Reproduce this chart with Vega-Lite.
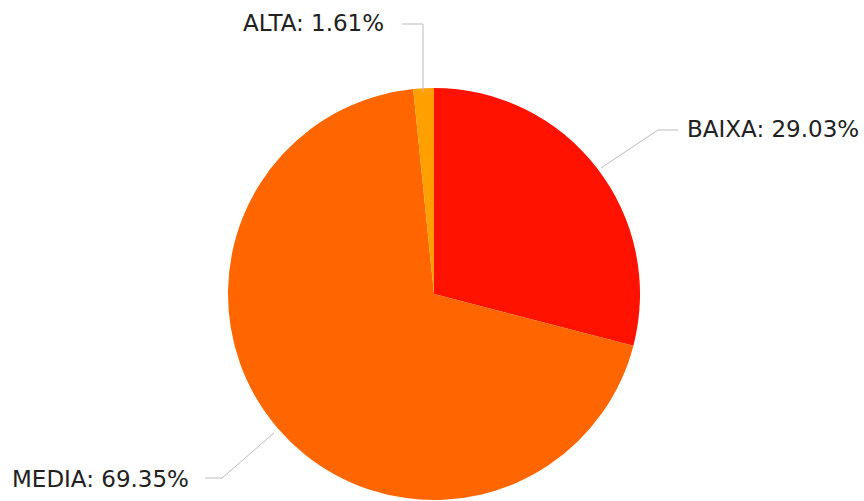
{
  "$schema": "https://vega.github.io/schema/vega-lite/v6.json",
  "autosize": {"type": "fit", "contains": "padding"},
  "width": 864,
  "height": 501,
  "padding": 0,
  "background": "white",
  "config": {"view": {"stroke": null}},
  "datasets": {
    "pie": [
      {"category": "BAIXA", "value": 29.03, "ord": 1},
      {"category": "MEDIA", "value": 69.35, "ord": 2},
      {"category": "ALTA", "value": 1.61, "ord": 3}
    ],
    "leaders": [
      {"category": "ALTA", "px": -11, "py": 202, "k": 1},
      {"category": "ALTA", "px": -11, "py": 270, "k": 2},
      {"category": "ALTA", "px": -32, "py": 270, "k": 3},
      {"category": "BAIXA", "px": 167, "py": 126, "k": 1},
      {"category": "BAIXA", "px": 224, "py": 164, "k": 2},
      {"category": "BAIXA", "px": 244, "py": 164, "k": 3},
      {"category": "MEDIA", "px": -160, "py": -139, "k": 1},
      {"category": "MEDIA", "px": -212, "py": -184, "k": 2},
      {"category": "MEDIA", "px": -229, "py": -184, "k": 3}
    ],
    "labels": [
      {"text": "ALTA: 1.61%", "lx": -191, "ly": 270},
      {"text": "BAIXA: 29.03%", "lx": 253, "ly": 164},
      {"text": "MEDIA: 69.35%", "lx": -422, "ly": -186}
    ]
  },
  "layer": [
    {
      "data": {"name": "pie"},
      "mark": {"type": "arc", "outerRadius": 206},
      "encoding": {
        "theta": {"field": "value", "type": "quantitative", "stack": true},
        "order": {"field": "ord", "type": "quantitative"},
        "color": {
          "field": "category",
          "type": "nominal",
          "scale": {"domain": ["BAIXA", "MEDIA", "ALTA"], "range": ["#ff1200", "#ff6600", "#ffa000"]},
          "legend": null
        },
        "x": {"datum": 0, "type": "quantitative", "scale": {"domain": [-434, 430], "nice": false, "zero": false}, "axis": null},
        "y": {"datum": 0, "type": "quantitative", "scale": {"domain": [-207, 294], "nice": false, "zero": false}, "axis": null}
      }
    },
    {
      "data": {"name": "leaders"},
      "mark": {"type": "line", "color": "#bbbbbb", "strokeWidth": 1},
      "encoding": {
        "x": {"field": "px", "type": "quantitative"},
        "y": {"field": "py", "type": "quantitative"},
        "detail": {"field": "category", "type": "nominal"},
        "order": {"field": "k", "type": "quantitative"}
      }
    },
    {
      "data": {"name": "labels"},
      "mark": {"type": "text", "align": "left", "baseline": "middle", "font": "DejaVu Sans", "fontSize": 23, "color": "#222222"},
      "encoding": {
        "x": {"field": "lx", "type": "quantitative"},
        "y": {"field": "ly", "type": "quantitative"},
        "text": {"field": "text", "type": "nominal"}
      }
    }
  ]
}
